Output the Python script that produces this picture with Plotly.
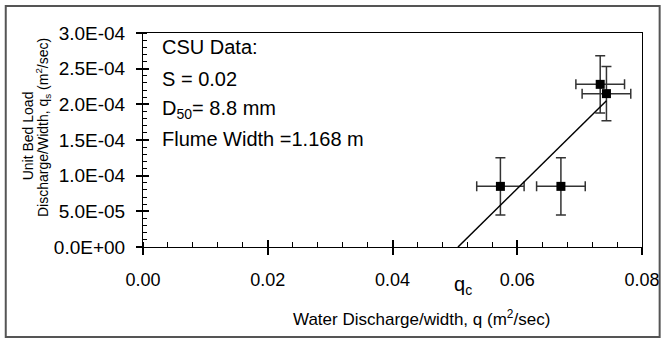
import plotly.graph_objects as go

# data
q = [0.0573, 0.0670, 0.0733, 0.0743]
qs = [8.5e-5, 8.5e-5, 2.28e-4, 2.15e-4]
q_err = [0.0038, 0.0039, 0.0039, 0.0039]
qs_err = [4.0e-5, 4.0e-5, 4.0e-5, 3.8e-5]
trend_x = [0.0505, 0.0743]
trend_y = [0.0, 2.05e-4]
x_ticks = [0.0, 0.02, 0.04, 0.06, 0.08]
x_ticktext = ["0.00", "0.02", "0.04", "0.06", "0.08"]
y_ticks = [0.0, 5e-5, 1e-4, 1.5e-4, 2e-4, 2.5e-4, 3e-4]
y_ticktext = ["0.0E+00", "5.0E-05", "1.0E-04", "1.5E-04", "2.0E-04", "2.5E-04", "3.0E-04"]
info_lines = ["CSU Data:", "S = 0.02", "D<sub>50</sub>= 8.8 mm", "Flume Width =1.168 m"]
y_title_lines = ["Unit Bed Load", "Discharge/Width, q<sub>s</sub> (m<sup>2</sup>/sec)"]

FONT = "Liberation Sans, Arial, sans-serif"
W, H = 672, 339
ML, MR, MT, MB = 143, 20, 33, 92
pw, ph = W - ML - MR, H - MT - MB

fig = go.Figure()
fig.add_trace(go.Scatter(
    x=q, y=qs, mode="markers",
    marker=dict(symbol="square", size=9, color="black"),
    error_x=dict(type="data", array=q_err, color="#333333", thickness=1.5, width=5),
    error_y=dict(type="data", array=qs_err, color="#333333", thickness=1.5, width=5),
    showlegend=False, hoverinfo="skip"))
fig.add_trace(go.Scatter(
    x=trend_x, y=trend_y, mode="lines", xaxis="x2", yaxis="y2",
    line=dict(color="black", width=1.5), showlegend=False, hoverinfo="skip"))

xr = [0, 0.08]
yr = [0, 3e-4]
fig.update_layout(
    width=W, height=H,
    margin=dict(l=ML, r=MR, t=MT, b=MB),
    paper_bgcolor="white", plot_bgcolor="white",
    font=dict(family=FONT, color="black"),
    xaxis=dict(range=xr, tickvals=x_ticks, ticktext=x_ticktext,
               showgrid=False, zeroline=False, showline=True, linecolor="black",
               linewidth=1, mirror=True, ticks="outside", ticklen=7,
               tickcolor="black", tickwidth=1.5, ticklabelstandoff=9,
               tickfont=dict(size=18, family=FONT),
               minor=dict(dtick=0.004, tick0=0, ticks="inside", ticklen=5,
                          tickcolor="black", tickwidth=1, showgrid=False)),
    yaxis=dict(range=yr, tickvals=y_ticks, ticktext=y_ticktext,
               showgrid=False, zeroline=False, showline=True, linecolor="black",
               linewidth=1, mirror=True, ticks="outside", ticklen=6,
               tickcolor="black", tickwidth=1.5, ticklabelstandoff=7,
               tickfont=dict(size=19, family=FONT),
               minor=dict(dtick=1e-5, tick0=0, ticks="inside", ticklen=4,
                          tickcolor="black", tickwidth=1, showgrid=False)),
    xaxis2=dict(range=xr, overlaying="x", anchor="y2", side="bottom",
                tickvals=x_ticks, showticklabels=False, ticks="inside", ticklen=7,
                tickcolor="black", tickwidth=1.5, showgrid=False, zeroline=False,
                showline=False),
    yaxis2=dict(range=yr, overlaying="y", anchor="x2", side="left",
                tickvals=y_ticks, showticklabels=False, ticks="inside", ticklen=6,
                tickcolor="black", tickwidth=1.5, showgrid=False, zeroline=False,
                showline=False),
)

def px_x(p):
    return (p - ML) / pw

def px_y(p):
    return (H - MB - p) / ph

# outer frame
fig.add_shape(type="rect", xref="paper", yref="paper",
              x0=px_x(3), x1=px_x(670), y0=px_y(337), y1=px_y(6),
              line=dict(color="#555555", width=2), fillcolor="rgba(0,0,0,0)")

ys = [47, 79, 109, 139]
for t, yy in zip(info_lines, ys):
    fig.add_annotation(text=t, xref="paper", yref="paper", x=px_x(160), y=px_y(yy),
                       xanchor="left", yanchor="middle", showarrow=False,
                       font=dict(size=20, family=FONT))

fig.add_annotation(text="q<sub>c</sub>", xref="x", yref="paper", x=0.0513, y=px_y(285),
                   xanchor="center", yanchor="middle", showarrow=False,
                   font=dict(size=20, family=FONT))
fig.add_annotation(text="Water Discharge/width, q (m<sup>2</sup>/sec)",
                   xref="paper", yref="paper", x=px_x(427), y=px_y(318),
                   xanchor="center", yanchor="middle", showarrow=False,
                   font=dict(size=17, family=FONT))
for t, cx, cy in zip(y_title_lines, [26, 41], [136, 128]):
    fig.add_annotation(text=t, xref="paper", yref="paper", x=px_x(cx), y=px_y(cy),
                       xanchor="center", yanchor="middle", showarrow=False, textangle=-90,
                       font=dict(size=14, family=FONT))

fig.write_html("out.html")
